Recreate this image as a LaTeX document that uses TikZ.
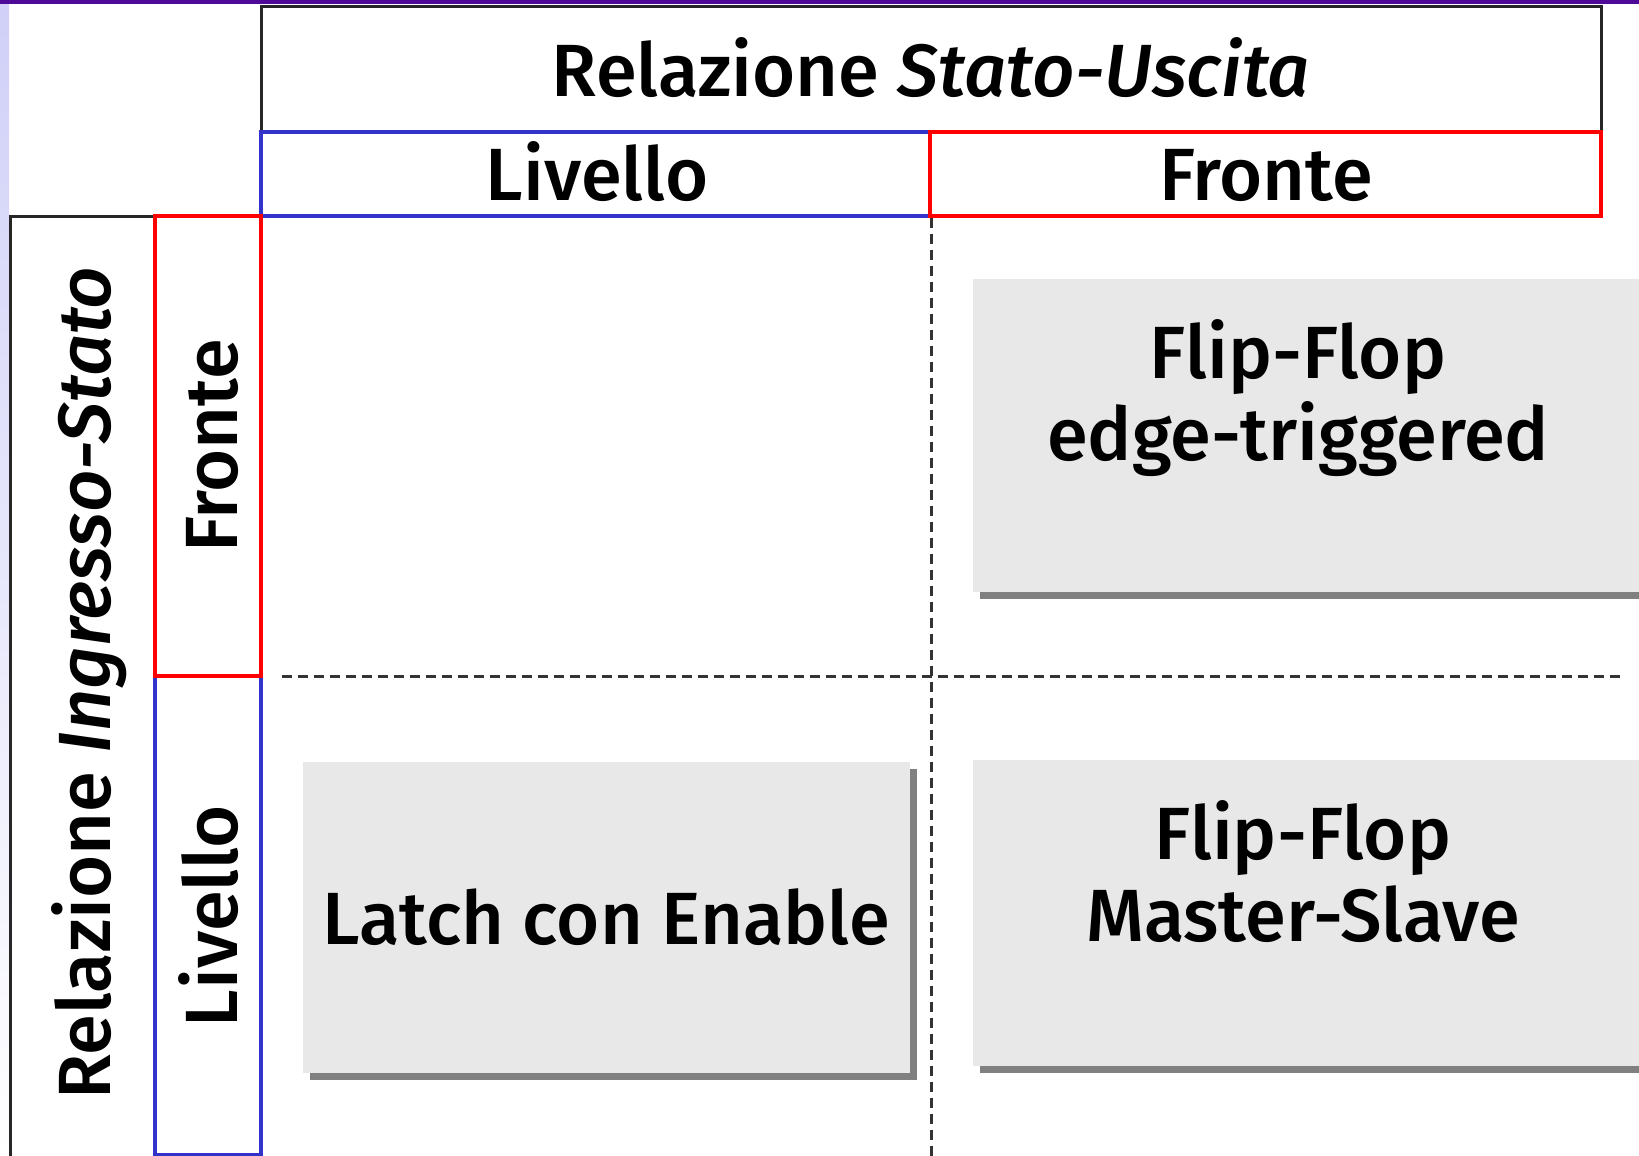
\documentclass[tikz,border=0pt]{standalone}
\usepackage{fontspec}
\setmainfont{Fira Sans}[BoldFont={Fira Sans Medium},BoldItalicFont={Fira Sans Medium Italic}]
\definecolor{livblue}{RGB}{51,51,204}
\definecolor{frored}{RGB}{255,0,0}
\definecolor{cellgray}{RGB}{232,232,232}
\definecolor{shadegray}{RGB}{128,128,128}
\definecolor{barpurple}{RGB}{78,10,150}
\definecolor{edgelav}{RGB}{208,208,248}
\tikzset{every picture/.style={line width=0.75pt}}
\tikzset{
  lbl/.style={font=\fontsize{74}{82}\selectfont\bfseries, inner sep=0pt, anchor=base, align=center},
  frame/.style={draw=black!85, line width=3pt},
  livframe/.style={draw=livblue, line width=3.5pt},
  froframe/.style={draw=frored, line width=4pt},
  cell/.style={fill=cellgray},
  cellshadow/.style={fill=shadegray},
  divline/.style={draw=black!80, line width=3pt, dash pattern=on 10pt off 6pt},
}

\begin{document}
\begin{tikzpicture}[x=1pt,y=1pt,yscale=-1,xscale=1]
\useasboundingbox (0,0) rectangle (1639,1156);

%Background, side strip and top bar
\fill[white] (0,0) rectangle (1639,1156);
\shade[top color=edgelav, middle color=edgelav!55, bottom color=white] (0,0) rectangle (9,1156);
\fill[barpurple] (0,0) rectangle (1639,4);

%Shape: Rectangle (outer header frames)
\draw[frame] (261,7) rectangle (1601,216);
\draw[frame] (10,216) rectangle (261,1160);

%Shape: Rectangle (column headers)
\draw[livframe] (261,132) rectangle (930,216);
\draw[froframe] (930,132) rectangle (1601,216);

%Shape: Rectangle (row headers)
\draw[livframe] (155,676) rectangle (261,1155);
\draw[froframe] (155,216) rectangle (261,676);

%Straight Lines (cell dividers)
\coordinate (vtop) at (931,218);
\coordinate (vbot) at (931,1156);
\coordinate (hlft) at (282,676);
\coordinate (hrgt) at (1625,676);
\draw[divline] (vtop) -- (vbot);
\draw[divline] (hlft) -- (hrgt);

%Shape: Rectangle (cells with shadow)
\fill[cellshadow] (980,286) rectangle (1650,599);
\fill[cell] (973,279) rectangle (1650,592);
\fill[cellshadow] (310,769) rectangle (917,1080);
\fill[cell] (303,762) rectangle (910,1073);
\fill[cellshadow] (980,767) rectangle (1650,1073);
\fill[cell] (973,760) rectangle (1650,1066);

% Text Node
\node[lbl] (stout) at (931,96) {Relazione \textit{Stato-Uscita}};
% Text Node
\node[lbl] (colliv) at (597,200) {Livello};
% Text Node
\node[lbl] (colfro) at (1266,200) {Fronte};
% Text Node
\node[lbl, rotate=90] (instat) at (110,683) {Relazione \textit{Ingresso-Stato}};
% Text Node
\node[lbl, rotate=90] (rowfro) at (237,446) {Fronte};
% Text Node
\node[lbl, rotate=90] (rowliv) at (237,916) {Livello};
% Text Node
\node[lbl] (ffedge) at (1298,460) {Flip-Flop\\edge-triggered};
% Text Node
\node[lbl] (latch) at (606,944) {Latch con Enable};
% Text Node
\node[lbl] (ffms) at (1303,941) {Flip-Flop\\Master-Slave};

\end{tikzpicture}
\end{document}
